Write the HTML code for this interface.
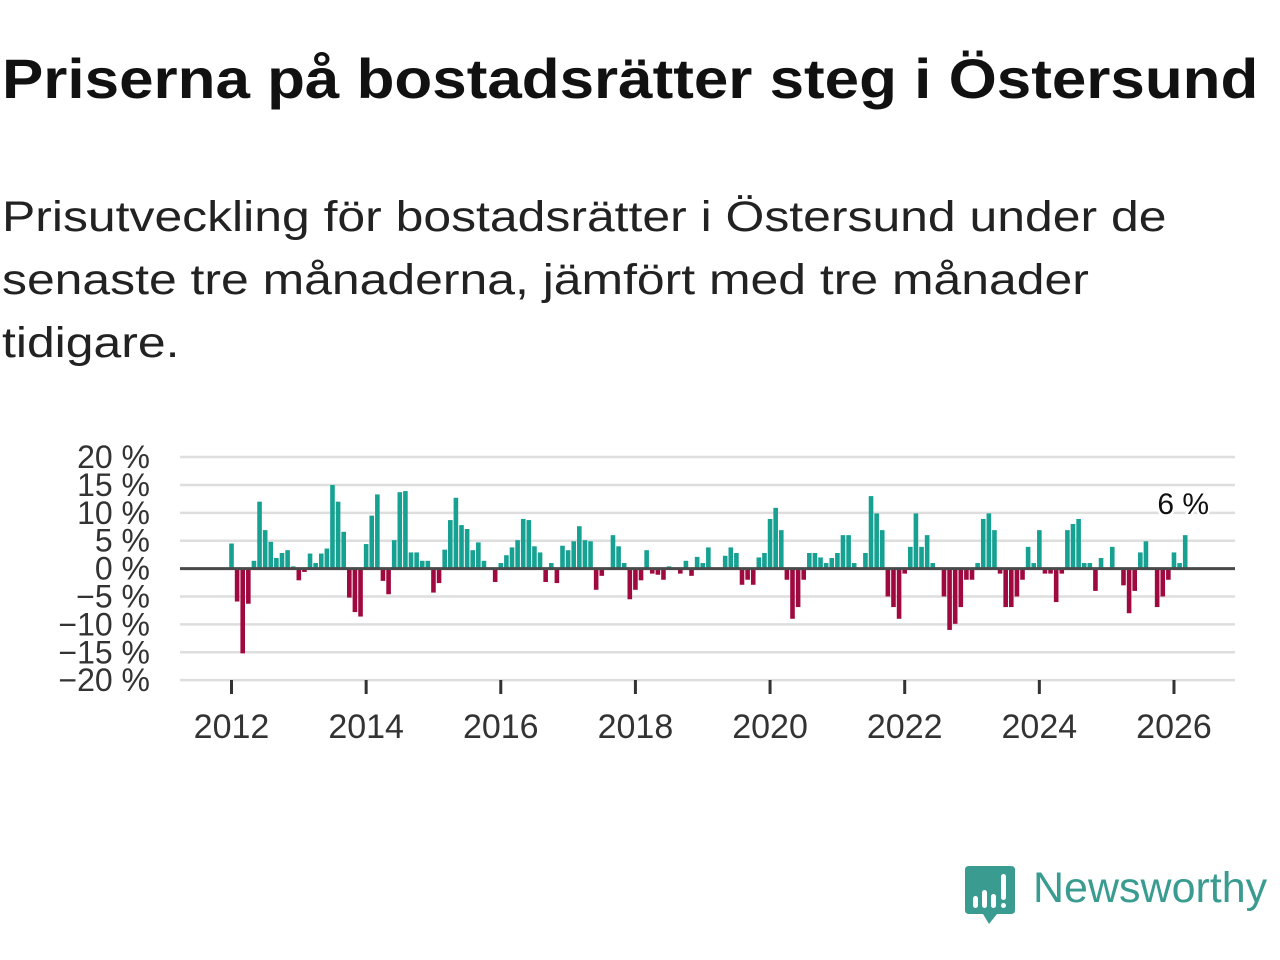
<!DOCTYPE html>
<html><head><meta charset="utf-8">
<style>
body{margin:0;width:1280px;height:960px;background:#fff;font-family:"Liberation Sans",sans-serif;overflow:hidden;position:relative}
#title{position:absolute;left:2px;top:46px;font-size:56px;font-weight:bold;color:#111;white-space:nowrap;transform:scaleX(1.106);transform-origin:left top}
#subtitle{position:absolute;left:2px;top:186px;font-size:43px;line-height:63px;color:#222;white-space:nowrap;transform:scaleX(1.16);transform-origin:left top}
svg{position:absolute;left:0;top:0}
</style></head><body>
<div id="title">Priserna på bostadsrätter steg i Östersund</div>
<div id="subtitle">Prisutveckling för bostadsrätter i Östersund under de<br>senaste tre månaderna, jämfört med tre månader<br>tidigare.</div>
<svg id="chart" width="1280" height="960"></svg>
<script>
const startYear = 2012;
const values = [4.5,-5.9,-15.2,-6.3,1.4,12,6.9,4.8,1.9,2.8,3.3,0.4,-2.1,-0.6,2.7,1,2.7,3.6,15,12,6.6,-5.2,-7.8,-8.6,4.4,9.5,13.3,-2.2,-4.6,5.1,13.7,13.9,2.9,2.9,1.4,1.4,-4.3,-2.6,3.4,8.7,12.7,7.8,7.1,3.3,4.7,1.4,0,-2.4,1,2.4,3.8,5.1,8.9,8.7,4,2.9,-2.4,1,-2.6,4.1,3.3,4.9,7.6,5.1,4.9,-3.8,-1.3,0,6,4,1,-5.5,-3.8,-2.1,3.3,-0.9,-1.1,-2,0.4,0,-0.9,1.4,-1.3,2.1,1,3.8,0,0,2.3,3.8,2.8,-2.9,-2,-2.9,2,2.8,8.9,10.9,6.9,-2,-9,-6.9,-2,2.8,2.8,2,1,1.9,2.8,6,6,1,0,2.8,13,9.9,6.9,-5,-6.9,-9,-0.9,3.9,9.9,3.9,6,1,0,-5,-11,-9.9,-6.9,-2,-2,1,8.9,9.9,6.9,-0.9,-6.9,-6.9,-5,-2,3.9,1,6.9,-0.9,-0.9,-6,-0.9,6.9,8,8.9,1,1,-4,1.9,0,3.9,0,-3,-8,-4,2.9,4.9,0,-6.9,-5,-2,2.9,1,6];
const yTicks = [20,15,10,5,0,-5,-10,-15,-20];
const xYears = [2012,2014,2016,2018,2020,2022,2024,2026];
const lastLabel = "6 %";

const svg = document.getElementById('chart');
const NS = 'http://www.w3.org/2000/svg';
const x0 = 231.5, monthW = 5.61;
const xScale = i => x0 + i*monthW;
const y0 = 568.6, pxPer = 5.577;
const yScale = v => y0 - v*pxPer;
function mk(t, a){const e=document.createElementNS(NS,t);for(const k in a)e.setAttribute(k,a[k]);svg.appendChild(e);return e;}

yTicks.forEach(v=>{
  if(v!==0){const g=mk('line',{x1:180,x2:1235,y1:yScale(v),y2:yScale(v),stroke:'#dedede','stroke-width':2.5});
  
  }
  const t=mk('text',{x:150,y:yScale(v)+11,'text-anchor':'end','font-size':32,fill:'#333','font-family':'Liberation Sans, sans-serif'});
  t.textContent=(v<0?'\u2212'+(-v):v)+' %';
  
  
});
values.forEach((v,i)=>{
  const yt=Math.min(yScale(v),y0), h=Math.abs(yScale(v)-y0);
  const r=mk('rect',{x:xScale(i)-2.3,y:yt,width:4.6,height:h,fill:v>=0?'#16a192':'#a0093f'});
  
  
});
const z=mk('line',{x1:180,x2:1235,y1:y0,y2:y0,stroke:'#4a4a4a','stroke-width':3});


xYears.forEach(yr=>{
  const x=xScale((yr-startYear)*12);
  const tk=mk('line',{x1:x,x2:x,y1:680,y2:694,stroke:'#333','stroke-width':3});
  
  
  const t=mk('text',{x:x,y:738,'text-anchor':'middle','font-size':34,fill:'#333','font-family':'Liberation Sans, sans-serif'});
  t.textContent=yr;
  
  
});
const li=values.length-1;
const lb=mk('text',{x:xScale(li)-2,y:514,'text-anchor':'middle','font-size':30,fill:'#111','font-family':'Liberation Sans, sans-serif',stroke:'#fff','stroke-width':5,'paint-order':'stroke'});
lb.textContent=lastLabel;


</script>
<div style="position:absolute;left:965px;top:866px;width:320px;height:64px">
  <svg width="52" height="62" style="position:absolute;left:0;top:0">
    <path d="M4 0 H46 Q50 0 50 4 V44 Q50 48 46 48 H32 L24 58 L18 48 H4 Q0 48 0 44 V4 Q0 0 4 0Z" fill="#3a9c90"/>
    <rect x="8" y="30" width="5" height="12" rx="2.5" fill="#fff"/>
    <rect x="17" y="24" width="5" height="18" rx="2.5" fill="#fff"/>
    <rect x="26" y="28" width="5" height="14" rx="2.5" fill="#fff"/>
    <rect x="36" y="8" width="5" height="26" rx="2.5" fill="#fff"/>
    <rect x="36" y="37" width="5" height="5" rx="2.5" fill="#fff"/>
  </svg>
  <div style="position:absolute;left:68px;top:-2px;font-size:43px;color:#3a9c90;font-family:'Liberation Sans',sans-serif">Newsworthy</div>
</div>
</body></html>
